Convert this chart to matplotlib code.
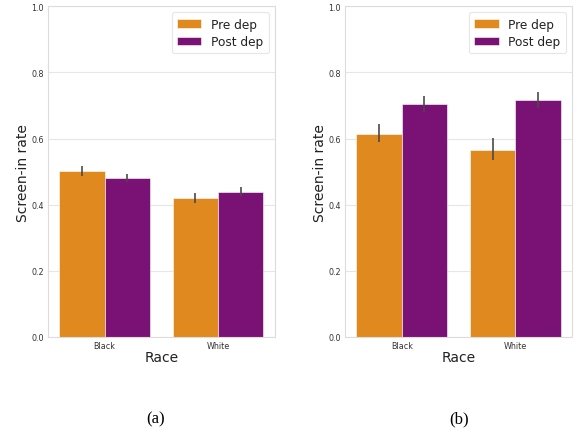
import matplotlib
matplotlib.use("Agg")
import matplotlib.pyplot as plt
import numpy as np

races = ["Black", "White"]
series = ["Pre dep", "Post dep"]
colors = ["#E0891F", "#7A1174"]

# panel (a)
a_pre = [0.502, 0.420]
a_post = [0.481, 0.438]
a_pre_lo = [0.488, 0.405]
a_pre_hi = [0.516, 0.434]
a_post_lo = [0.468, 0.425]
a_post_hi = [0.494, 0.452]

# panel (b)
b_pre = [0.615, 0.566]
b_post = [0.705, 0.717]
b_pre_lo = [0.590, 0.536]
b_pre_hi = [0.644, 0.602]
b_post_lo = [0.680, 0.692]
b_post_hi = [0.729, 0.741]

yticks = [0.0, 0.2, 0.4, 0.6, 0.8, 1.0]
captions = ["(a)", "(b)"]

fig = plt.figure(figsize=(5.76, 4.31), dpi=100)

panels = [
    (a_pre, a_post, a_pre_lo, a_pre_hi, a_post_lo, a_post_hi),
    (b_pre, b_post, b_pre_lo, b_pre_hi, b_post_lo, b_post_hi),
]
lefts = [0.083, 0.599]
cap_x = [0.270, 0.797]
for i, (pre, post, plo, phi, qlo, qhi) in enumerate(panels):
    ax = fig.add_axes([lefts[i], 0.216, 0.394, 0.767])
    x = np.arange(len(races))
    w = 0.4
    vals = [pre, post]
    los = [plo, qlo]
    his = [phi, qhi]
    for j in range(2):
        xs = x - w / 2 + j * w
        ax.bar(xs, vals[j], width=w, color=colors[j], edgecolor="white",
               linewidth=0.4, label=series[j], zorder=2)
        for k in range(len(races)):
            ax.plot([xs[k], xs[k]], [los[j][k], his[j][k]], color="#4a4a4a",
                    lw=1.2, zorder=3, solid_capstyle="butt")
    ax.set_xlim(-0.5, 1.5)
    ax.set_ylim(0, 1.0)
    ax.set_yticks(yticks)
    ax.set_yticklabels([f"{t:.1f}" for t in yticks])
    ax.set_xticks(x)
    ax.set_xticklabels(races)
    ax.tick_params(axis="both", length=0, labelsize=5.8, colors="#333333", pad=3)
    ax.grid(axis="y", color="#e6e6e6", lw=0.8, zorder=0)
    ax.set_axisbelow(True)
    for s in ax.spines.values():
        s.set_color("#dcdcdc")
        s.set_linewidth(0.8)
    ax.set_xlabel("Race", fontsize=10, color="#222222", labelpad=0)
    ax.set_ylabel("Screen-in rate", fontsize=10, color="#222222", labelpad=1)
    leg = ax.legend(loc="upper right", fontsize=8.7, frameon=True,
                    fancybox=True, borderpad=0.45, labelspacing=0.35,
                    handlelength=2.0, handletextpad=0.8,
                    bbox_to_anchor=(1.0, 1.0), borderaxespad=0.5)
    leg.get_frame().set_edgecolor("#e0e0e0")
    leg.get_frame().set_linewidth(0.8)
    for t in leg.get_texts():
        t.set_color("#222222")
    fig.text(cap_x[i], 1 - 419 / 431, captions[i], ha="center", va="center",
             fontsize=12, family="Liberation Serif")

fig.savefig("out.png", dpi=100)
